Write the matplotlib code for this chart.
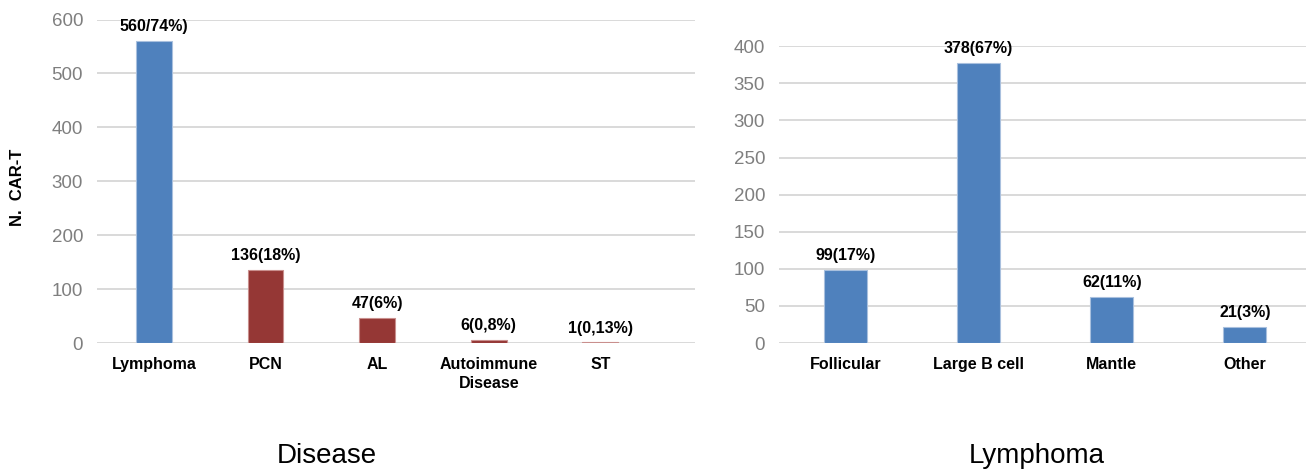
import matplotlib
matplotlib.use("Agg")
import matplotlib.pyplot as plt

plt.rcParams["font.family"] = ["Liberation Sans", "DejaVu Sans"]

# left chart: disease
disease_cats = ["Lymphoma", "PCN", "AL", "Autoimmune\nDisease", "ST"]
disease_vals = [560, 136, 47, 6, 1]
disease_labels = ["560/74%)", "136(18%)", "47(6%)", "6(0,8%)", "1(0,13%)"]

# right chart: lymphoma
lymph_cats = ["Follicular", "Large B cell", "Mantle", "Other"]
lymph_vals = [99, 378, 62, 21]
lymph_labels = ["99(17%)", "378(67%)", "62(11%)", "21(3%)"]

BLUE = "#4F81BD"
RED = "#953735"
GRID = "#d9d9d9"

fig = plt.figure(figsize=(13.06, 4.70), dpi=100)
ax1 = fig.add_axes([0.0743, 0.2702, 0.458, 0.6883])
ax2 = fig.add_axes([0.5965, 0.2702, 0.4035, 0.6313])


def style_axes(ax, cats, ymax, step):
    ax.set_ylim(0, ymax)
    ax.set_yticks(range(0, ymax + 1, step))
    ax.yaxis.grid(True, color=GRID, linewidth=1.4)
    ax.set_axisbelow(True)
    for s in ax.spines.values():
        s.set_visible(False)
    ax.set_xticks(range(len(cats)))
    ax.set_xticklabels(cats, fontsize=11.5, fontweight="bold", color="black",
                       linespacing=1.35)
    ax.tick_params(axis="x", length=0, pad=10)
    ax.tick_params(axis="y", length=0, pad=10, labelsize=13.5, labelcolor="#7f7f7f")


def add_labels(ax, bars, labels):
    for b, lab in zip(bars, labels):
        ax.annotate(lab, (b.get_x() + b.get_width() / 2, b.get_height()),
                    xytext=(0, 5), textcoords="offset points",
                    ha="center", va="bottom", fontsize=11.5, fontweight="bold")


# left
colors1 = [BLUE] + [RED] * (len(disease_vals) - 1)
edges1 = ["#a9c0de"] + ["#c98f8d"] * (len(disease_vals) - 1)
bars1 = ax1.bar(range(len(disease_vals)), disease_vals, width=0.32,
                color=colors1, edgecolor=edges1, linewidth=0.8)
style_axes(ax1, disease_cats, 600, 100)
ax1.set_xlim(-0.51, 4.85)
add_labels(ax1, bars1, disease_labels)

# right
bars2 = ax2.bar(range(len(lymph_vals)), lymph_vals, width=0.32,
                color=BLUE, edgecolor="#a9c0de", linewidth=0.8)
style_axes(ax2, lymph_cats, 400, 50)
ax2.set_xlim(-0.5, 3.46)
add_labels(ax2, bars2, lymph_labels)

fig.text(18 / 1306, 1 - 187 / 470, "N.  CAR-T", rotation=90, ha="center",
         va="center", fontsize=12, fontweight="bold")

fig.text(327 / 1306, 1 - 456 / 470, "Disease", ha="center", va="center", fontsize=20)
fig.text(1037 / 1306, 1 - 456 / 470, "Lymphoma", ha="center", va="center", fontsize=20)

fig.savefig("out.png", dpi=100)
